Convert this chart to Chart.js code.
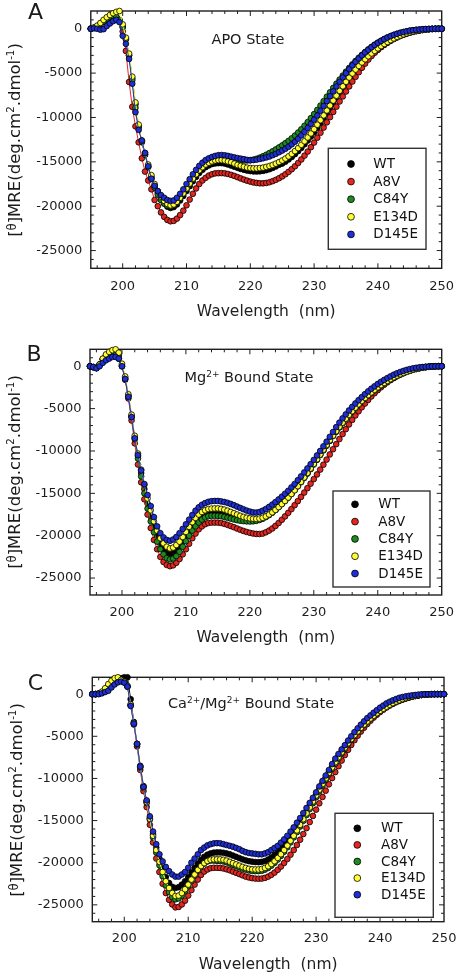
<!DOCTYPE html>
<html>
<head>
<meta charset="utf-8">
<script src="https://cdn.jsdelivr.net/npm/chart.js@4.4.0/dist/chart.umd.min.js"></script>
<style>
  html, body { margin: 0; padding: 0; background: #fff; }
  #page { position: relative; width: 456px; height: 976px; overflow: hidden; font-family: 'DejaVu Sans', sans-serif; color: #1a1a1a; }
  canvas { position: absolute; left: 0; }
  .lbl { position: absolute; white-space: nowrap; transform: translate(-50%, -50%); line-height: 1; }
  .ytitle { transform: translate(-50%, -50%) rotate(-90deg); font-size: 16.5px; }
  .note { font-size: 14.5px; }
  .letter { font-size: 22px; }
  .th { font-size: 0.7em; vertical-align: 0.35em; }
  sup { font-size: 0.62em; line-height: 0; vertical-align: 0.55em; }
</style>
</head>
<body>
<div id="page">
  <canvas id="chartA" width="456" height="325" style="top:0px"></canvas>
  <canvas id="chartB" width="456" height="325" style="top:325px"></canvas>
  <canvas id="chartC" width="456" height="326" style="top:650px"></canvas>

  <div class="lbl letter" style="left:35.5px;top:12px">A</div>
  <div class="lbl letter" style="left:34px;top:353.5px">B</div>
  <div class="lbl letter" style="left:35.5px;top:682.5px">C</div>

  <div class="lbl ytitle" style="left:14.5px;top:139.5px">[<span class="th">θ</span>]MRE(deg.cm<sup>2</sup>.dmol<sup>-1</sup>)</div>
  <div class="lbl ytitle" style="left:14.5px;top:472px">[<span class="th">θ</span>]MRE(deg.cm<sup>2</sup>.dmol<sup>-1</sup>)</div>
  <div class="lbl ytitle" style="left:16.5px;top:799.5px">[<span class="th">θ</span>]MRE(deg.cm<sup>2</sup>.dmol<sup>-1</sup>)</div>

  <div class="lbl note" style="left:248px;top:39px">APO State</div>
  <div class="lbl note" style="left:249px;top:377px">Mg<sup>2+</sup> Bound State</div>
  <div class="lbl note" style="left:251px;top:703px">Ca<sup>2+</sup>/Mg<sup>2+</sup> Bound State</div>
</div>
<script>
// ===== Data (0.5 nm steps) =====
const wavelength = [
  195, 195.5, 196, 196.5, 197, 197.5, 198, 198.5, 199, 199.5,
  200, 200.5, 201, 201.5, 202, 202.5, 203, 203.5, 204, 204.5,
  205, 205.5, 206, 206.5, 207, 207.5, 208, 208.5, 209, 209.5,
  210, 210.5, 211, 211.5, 212, 212.5, 213, 213.5, 214, 214.5,
  215, 215.5, 216, 216.5, 217, 217.5, 218, 218.5, 219, 219.5,
  220, 220.5, 221, 221.5, 222, 222.5, 223, 223.5, 224, 224.5,
  225, 225.5, 226, 226.5, 227, 227.5, 228, 228.5, 229, 229.5,
  230, 230.5, 231, 231.5, 232, 232.5, 233, 233.5, 234, 234.5,
  235, 235.5, 236, 236.5, 237, 237.5, 238, 238.5, 239, 239.5,
  240, 240.5, 241, 241.5, 242, 242.5, 243, 243.5, 244, 244.5,
  245, 245.5, 246, 246.5, 247, 247.5, 248, 248.5, 249, 249.5,
  250
];

const seriesNames = ['WT', 'A8V', 'C84Y', 'E134D', 'D145E'];
const seriesColors = ['#050505', '#e3261f', '#1f8a22', '#ffff33', '#1f2fd6'];
const xTickValues = [200, 210, 220, 230, 240, 250];
const yTickValues = [0, -5000, -10000, -15000, -20000, -25000];

// --- A: APO state ---
const apoWT = [
  0, 100, 250, 550, 850, 1100, 1300, 1400, 1300, 900,
  200, -1100, -3000, -5600, -8500, -11000, -12800, -14200, -15500, -16700,
  -17700, -18500, -19200, -19700, -20050, -20200, -20100, -19800, -19350, -18850,
  -18300, -17750, -17200, -16700, -16250, -15900, -15600, -15400, -15250, -15180,
  -15150, -15150, -15200, -15300, -15420, -15550, -15680, -15800, -15900, -15980,
  -16040, -16080, -16090, -16070, -16020, -15940, -15830, -15690, -15520, -15330,
  -15200, -14980, -14730, -14450, -14140, -13800, -13430, -13030, -12600, -12150,
  -11680, -11180, -10660, -10120, -9570, -9010, -8450, -7900, -7350, -6830,
  -6320, -5820, -5340, -4880, -4450, -4040, -3660, -3300, -2960, -2650,
  -2360, -2080, -1820, -1580, -1360, -1160, -980, -820, -670, -540,
  -430, -330, -250, -180, -120, -80, -50, -25, -10, 0,
  0
];
const apoA8V = [
  0, 100, 250, 500, 800, 1050, 1250, 1350, 1250, 800,
  -300, -2500, -6000, -8800, -11000, -12800, -14600, -16100, -17100, -18100,
  -19300, -20000, -20700, -21200, -21550, -21700, -21650, -21400, -21000, -20500,
  -19900, -19250, -18600, -18000, -17500, -17100, -16800, -16550, -16400, -16300,
  -16280, -16270, -16300, -16370, -16470, -16590, -16730, -16870, -17000, -17120,
  -17230, -17320, -17380, -17420, -17420, -17380, -17300, -17180, -17030, -16850,
  -16640, -16400, -16130, -15830, -15500, -15130, -14730, -14300, -13840, -13350,
  -12830, -12280, -11720, -11140, -10550, -9960, -9370, -8780, -8200, -7630,
  -7070, -6500, -5950, -5420, -4900, -4400, -3930, -3480, -3070, -2700,
  -2360, -2050, -1770, -1530, -1310, -1120, -950, -800, -670, -550,
  -450, -360, -280, -210, -150, -100, -60, -30, -10, 0,
  0
];
const apoC84Y = [
  0, 100, 250, 500, 800, 1100, 1300, 1400, 1350, 1000,
  200, -1200, -3000, -5800, -8900, -11100, -12700, -14200, -15600, -16900,
  -17900, -18700, -19300, -19700, -19950, -20000, -19850, -19500, -19050, -18550,
  -18000, -17450, -16900, -16400, -15950, -15550, -15250, -15000, -14850, -14750,
  -14700, -14700, -14720, -14750, -14780, -14800, -14820, -14830, -14840, -14840,
  -14800, -14750, -14650, -14520, -14370, -14200, -14010, -13810, -13600, -13380,
  -13150, -12900, -12640, -12350, -12040, -11700, -11330, -10940, -10520, -10080,
  -9620, -9150, -8660, -8160, -7660, -7160, -6670, -6190, -5730, -5280,
  -4840, -4420, -4010, -3630, -3270, -2940, -2620, -2320, -2040, -1790,
  -1560, -1350, -1150, -980, -830, -690, -570, -460, -370, -290,
  -220, -160, -120, -90, -60, -40, -20, -10, 0, 0,
  0
];
const apoE134D = [
  0, 150, 350, 650, 1000, 1300, 1550, 1750, 1900, 2000,
  500, -1000, -2800, -5400, -8300, -10800, -12600, -14000, -15300, -16500,
  -17500, -18300, -18900, -19400, -19750, -19900, -19800, -19500, -19050, -18550,
  -18000, -17450, -16900, -16400, -15950, -15600, -15300, -15100, -14950, -14850,
  -14800, -14800, -14850, -14950, -15050, -15200, -15350, -15450, -15550, -15650,
  -15700, -15730, -15730, -15700, -15650, -15570, -15470, -15350, -15200, -15030,
  -14850, -14630, -14380, -14100, -13790, -13450, -13080, -12680, -12250, -11800,
  -11320, -10820, -10300, -9760, -9210, -8650, -8090, -7540, -7000, -6480,
  -5980, -5500, -5040, -4600, -4190, -3800, -3440, -3100, -2780, -2490,
  -2210, -1950, -1710, -1490, -1280, -1090, -920, -770, -630, -510,
  -400, -310, -230, -170, -120, -80, -50, -25, -10, 0,
  0
];
const apoD145E = [
  0, 50, 0, -100, -50, 300, 600, 850, 1000, 750,
  -800, -1700, -3400, -6200, -9400, -11400, -12600, -14000, -15500, -16900,
  -17700, -18300, -18750, -19050, -19300, -19400, -19350, -19050, -18600, -18100,
  -17500, -16950, -16400, -15900, -15450, -15100, -14800, -14600, -14450, -14330,
  -14250, -14230, -14260, -14330, -14420, -14500, -14570, -14640, -14700, -14780,
  -14830, -14800, -14750, -14680, -14600, -14500, -14400, -14250, -14100, -13920,
  -13730, -13530, -13300, -13030, -12730, -12400, -12020, -11620, -11180, -10720,
  -10250, -9780, -9250, -8700, -8150, -7600, -7050, -6500, -5980, -5480,
  -5000, -4550, -4120, -3720, -3350, -3000, -2670, -2370, -2090, -1830,
  -1590, -1370, -1170, -990, -830, -690, -570, -460, -370, -290,
  -220, -170, -120, -90, -60, -40, -20, -10, 0, 0,
  0
];

// --- B: Mg2+ bound ---
const mgWT = [
  0, -100, -200, 200, 850, 1300, 1550, 1700, 1650, 1250,
  150, -1350, -3450, -5850, -8400, -10600, -12600, -14500, -16200, -17650,
  -18950, -20050, -20950, -21550, -21950, -22150, -22050, -21750, -21300, -20750,
  -20100, -19450, -18900, -18400, -17950, -17650, -17400, -17250, -17200, -17200,
  -17200, -17250, -17350, -17450, -17600, -17700, -17850, -17950, -18050, -18100,
  -18150, -18150, -18150, -18050, -17950, -17750, -17550, -17250, -16950, -16600,
  -16250, -15900, -15500, -15050, -14600, -14150, -13650, -13150, -12650, -12100,
  -11550, -11000, -10450, -9900, -9350, -8800, -8200, -7700, -7200, -6700,
  -6200, -5750, -5350, -4900, -4500, -4150, -3750, -3450, -3100, -2800,
  -2500, -2250, -2000, -1750, -1550, -1350, -1150, -950, -800, -650,
  -530, -420, -320, -230, -160, -110, -70, -35, -10, 0,
  0
];
const mgA8V = [
  0, -100, -200, 200, 800, 1200, 1400, 1500, 1300, 900,
  0, -1600, -3800, -6400, -9100, -11600, -13700, -15700, -17500, -19100,
  -20500, -21600, -22500, -23100, -23450, -23600, -23500, -23200, -22750, -22200,
  -21600, -20950, -20300, -19750, -19250, -18900, -18650, -18500, -18450, -18450,
  -18450, -18500, -18600, -18720, -18860, -19000, -19150, -19300, -19440, -19560,
  -19660, -19740, -19790, -19800, -19750, -19600, -19400, -19150, -18850, -18500,
  -18120, -17720, -17300, -16860, -16400, -15920, -15420, -14910, -14390, -13860,
  -13320, -12770, -12200, -11620, -11020, -10410, -9800, -9200, -8600, -8010,
  -7430, -6870, -6330, -5810, -5320, -4850, -4400, -3970, -3560, -3180,
  -2820, -2490, -2180, -1900, -1640, -1400, -1180, -980, -800, -640,
  -500, -380, -280, -200, -130, -80, -40, -20, -10, 0,
  0
];
const mgC84Y = [
  0, -100, -200, 200, 800, 1200, 1400, 1500, 1300, 900,
  0, -1500, -3600, -6000, -8600, -10900, -13000, -15000, -16800, -18300,
  -19600, -20700, -21600, -22200, -22650, -22800, -22700, -22400, -21900, -21300,
  -20650, -20000, -19400, -18900, -18450, -18100, -17850, -17700, -17650, -17650,
  -17660, -17700, -17780, -17880, -17980, -18080, -18170, -18230, -18280, -18310,
  -18320, -18300, -18250, -18150, -18000, -17800, -17560, -17280, -16970, -16630,
  -16270, -15890, -15490, -15070, -14630, -14170, -13690, -13190, -12670, -12140,
  -11600, -11050, -10490, -9930, -9370, -8810, -8260, -7730, -7220, -6730,
  -6260, -5810, -5370, -4950, -4550, -4170, -3810, -3470, -3150, -2850,
  -2560, -2290, -2030, -1790, -1570, -1360, -1170, -990, -830, -680,
  -550, -430, -330, -240, -170, -110, -70, -40, -15, 0,
  0
];
const mgE134D = [
  0, -100, -200, 200, 900, 1400, 1700, 1900, 2000, 1600,
  300, -1200, -3300, -5700, -8200, -10300, -12200, -14000, -15600, -17000,
  -18300, -19400, -20300, -20900, -21300, -21500, -21400, -21100, -20700, -20150,
  -19550, -18950, -18400, -17900, -17500, -17200, -17000, -16850, -16800, -16780,
  -16780, -16830, -16920, -17050, -17200, -17350, -17500, -17650, -17780, -17880,
  -17950, -18000, -18020, -17980, -17880, -17720, -17500, -17240, -16950, -16620,
  -16270, -15900, -15500, -15080, -14630, -14150, -13650, -13130, -12600, -12070,
  -11530, -10980, -10420, -9860, -9300, -8740, -8190, -7660, -7150, -6660,
  -6190, -5740, -5300, -4880, -4480, -4100, -3740, -3400, -3080, -2780,
  -2490, -2220, -1970, -1730, -1510, -1300, -1110, -940, -780, -640,
  -510, -400, -300, -220, -150, -100, -60, -30, -10, 0,
  0
];
const mgD145E = [
  0, -100, -250, 0, 400, 700, 900, 1100, 1100, 900,
  0, -1500, -3600, -6000, -8500, -10500, -12300, -13900, -15200, -16500,
  -17800, -18900, -19700, -20200, -20500, -20600, -20450, -20150, -19700, -19200,
  -18650, -18100, -17550, -17050, -16650, -16350, -16150, -16000, -15920, -15900,
  -15900, -15950, -16020, -16120, -16250, -16400, -16560, -16720, -16880, -17030,
  -17150, -17250, -17270, -17200, -17050, -16850, -16600, -16330, -16030, -15720,
  -15400, -15050, -14700, -14300, -13900, -13450, -13000, -12530, -12050, -11560,
  -11050, -10530, -10000, -9450, -8900, -8330, -7760, -7180, -6650, -6150,
  -5680, -5220, -4790, -4390, -4000, -3640, -3290, -2960, -2650, -2360,
  -2090, -1840, -1610, -1390, -1190, -1000, -830, -680, -550, -430,
  -330, -250, -180, -130, -90, -60, -40, -20, -10, 0,
  0
];

// --- C: Ca2+/Mg2+ bound ---
const caWT = [
  0, 0, 50, 200, 450, 800, 1200, 1500, 1700, 1900,
  2000, 2000, -600, -3300, -5900, -8500, -10900, -12700, -14700, -16600,
  -18200, -19500, -20700, -21700, -22400, -22850, -23000, -22900, -22600, -22200,
  -21700, -21150, -20600, -20100, -19650, -19300, -19050, -18900, -18800, -18780,
  -18780, -18820, -18900, -19000, -19150, -19300, -19450, -19600, -19720, -19820,
  -19880, -19920, -19940, -19900, -19800, -19620, -19380, -19080, -18730, -18330,
  -17890, -17420, -16910, -16370, -15800, -15200, -14580, -13940, -13280, -12610,
  -11930, -11250, -10570, -9900, -9240, -8600, -7980, -7380, -6810, -6270,
  -5750, -5260, -4800, -4360, -3950, -3560, -3200, -2860, -2550, -2260,
  -1990, -1740, -1510, -1300, -1110, -940, -780, -640, -510, -400,
  -300, -220, -150, -100, -60, -30, -10, 0, 0, 0,
  0
];
const caA8V = [
  0, 0, 50, 200, 500, 900, 1300, 1600, 1700, 1600,
  1400, 900, -1300, -3600, -6200, -9000, -11500, -13400, -15500, -17600,
  -19500, -21100, -22500, -23600, -24400, -24950, -25300, -25250, -24950, -24500,
  -23900, -23250, -22600, -22000, -21450, -21050, -20800, -20650, -20600, -20600,
  -20620, -20680, -20780, -20900, -21050, -21200, -21350, -21500, -21650, -21750,
  -21830, -21880, -21900, -21880, -21800, -21650, -21440, -21170, -20840, -20460,
  -20030, -19560, -19050, -18500, -17900, -17270, -16600, -15900, -15180, -14450,
  -13700, -12950, -12200, -11450, -10700, -9960, -9250, -8550, -7880, -7230,
  -6610, -6020, -5460, -4930, -4440, -3980, -3550, -3150, -2780, -2440,
  -2130, -1850, -1590, -1360, -1150, -960, -790, -640, -510, -400,
  -300, -220, -150, -100, -60, -30, -10, 0, 0, 0,
  0
];
const caC84Y = [
  0, 0, 50, 200, 500, 900, 1300, 1600, 1700, 1600,
  1400, 900, -1300, -3500, -6000, -8700, -11100, -12900, -14900, -17000,
  -18800, -20300, -21600, -22700, -23500, -24100, -24340, -24250, -23900, -23400,
  -22800, -22200, -21550, -20950, -20450, -20100, -19850, -19750, -19750, -19780,
  -19800, -19850, -19950, -20100, -20250, -20400, -20550, -20700, -20820, -20920,
  -20980, -21000, -21000, -20950, -20820, -20620, -20350, -20020, -19630, -19190,
  -18700, -18170, -17600, -17000, -16370, -15710, -15030, -14340, -13640, -12940,
  -12230, -11540, -10860, -10190, -9530, -8880, -8250, -7640, -7050, -6490,
  -5950, -5440, -4960, -4500, -4070, -3660, -3280, -2920, -2590, -2280,
  -1990, -1730, -1490, -1270, -1070, -890, -730, -590, -470, -360,
  -270, -190, -130, -80, -50, -25, -10, 0, 0, 0,
  0
];
const caE134D = [
  0, 0, 100, 300, 700, 1200, 1600, 1900, 2000, 1700,
  1500, 1000, -1200, -3400, -5900, -8600, -11000, -12800, -14800, -16800,
  -18500, -19900, -21100, -22200, -23000, -23600, -23950, -23900, -23600, -23150,
  -22600, -22000, -21400, -20850, -20400, -20050, -19800, -19650, -19600, -19600,
  -19600, -19650, -19750, -19900, -20050, -20200, -20350, -20500, -20620, -20720,
  -20780, -20800, -20800, -20750, -20620, -20420, -20150, -19820, -19430, -18990,
  -18500, -17970, -17400, -16800, -16170, -15510, -14830, -14140, -13440, -12740,
  -12040, -11350, -10670, -10000, -9340, -8700, -8080, -7480, -6900, -6350,
  -5830, -5330, -4860, -4420, -4000, -3600, -3230, -2880, -2560, -2260,
  -1980, -1720, -1480, -1260, -1060, -880, -720, -580, -460, -350,
  -260, -180, -120, -70, -40, -20, -10, 0, 0, 0,
  0
];
const caD145E = [
  0, 0, 0, 100, 250, 400, 800, 1150, 1400, 1500,
  1370, 900, -1400, -3500, -5900, -8600, -11000, -12600, -14500, -16300,
  -17800, -19000, -19850, -20500, -21000, -21400, -21650, -21650, -21400, -21100,
  -20600, -20000, -19500, -19000, -18500, -18200, -17950, -17800, -17700, -17680,
  -17700, -17800, -17900, -18000, -18100, -18250, -18400, -18600, -18750, -18850,
  -18900, -18950, -19000, -19000, -18900, -18750, -18500, -18250, -18000, -17620,
  -17230, -16800, -16300, -15800, -15250, -14700, -14100, -13500, -12900, -12300,
  -11650, -10950, -10300, -9650, -9000, -8300, -7650, -7100, -6550, -6050,
  -5500, -5000, -4500, -4050, -3620, -3220, -2840, -2520, -2200, -1900,
  -1600, -1350, -1100, -900, -730, -580, -430, -340, -260, -200,
  -140, -100, -50, -30, -10, 0, 0, 0, 0, 0,
  0
];

// ===== Layout per panel (pixel geometry only) =====
const panels = [
  { id: 'chartA', series: [apoWT, apoA8V, apoC84Y, apoE134D, apoD145E],
    area: { left: 90.8, top: 11, right: 441.7, bottom: 268.3 }, titlePad: 5.5, tickPad: 10.9,
    legend: { x0: 328.3, y0: 148.3, x1: 426, y1: 249.3, markerX: 351, textX: 373.3, rowY: 164, rowStep: 17.6 } },
  { id: 'chartB', series: [mgWT, mgA8V, mgC84Y, mgE134D, mgD145E],
    area: { left: 90, top: 24.3, right: 441.7, bottom: 270 }, titlePad: 4.5, tickPad: 9.5,
    legend: { x0: 333, y0: 166, x1: 430, y1: 262, markerX: 355, textX: 378.3, rowY: 179.3, rowStep: 17.3 } },
  { id: 'chartC', series: [caWT, caA8V, caC84Y, caE134D, caD145E],
    area: { left: 92.3, top: 27.3, right: 444, bottom: 271.7 }, titlePad: 3, tickPad: 9.5,
    legend: { x0: 335, y0: 163.3, x1: 433.3, y1: 267.3, markerX: 357.3, textX: 381, rowY: 178.3, rowStep: 16.6 } }
];

const FONT = 'DejaVu Sans';
const INK = '#1e1e1e';

// frame with inward ticks on all four sides
const frameTicks = {
  id: 'frameTicks',
  beforeDatasetsDraw(chart) {
    const { ctx, chartArea: a, scales: { x, y } } = chart;
    ctx.save();
    ctx.strokeStyle = INK;
    ctx.lineWidth = 1;
    ctx.beginPath();
    for (let v = 196; v < 250; v += 2) {
      const px = x.getPixelForValue(v);
      const len = v % 10 === 0 ? 5 : 3;
      ctx.moveTo(px, a.bottom); ctx.lineTo(px, a.bottom - len);
      ctx.moveTo(px, a.top); ctx.lineTo(px, a.top + len);
    }
    for (let v = -26000; v <= 1000; v += 1000) {
      const py = y.getPixelForValue(v);
      const len = v % 5000 === 0 ? 5 : 3;
      ctx.moveTo(a.left, py); ctx.lineTo(a.left + len, py);
      ctx.moveTo(a.right, py); ctx.lineTo(a.right - len, py);
    }
    ctx.stroke();
    ctx.lineWidth = 1.4;
    ctx.strokeRect(a.left, a.top, a.right - a.left, a.bottom - a.top);
    ctx.restore();
  }
};

// boxed legend inside the plot
const boxLegend = {
  id: 'boxLegend',
  afterDatasetsDraw(chart, args, opts) {
    const { ctx } = chart;
    ctx.save();
    ctx.fillStyle = '#fff';
    ctx.fillRect(opts.x0, opts.y0, opts.x1 - opts.x0, opts.y1 - opts.y0);
    ctx.strokeStyle = '#333';
    ctx.lineWidth = 1.4;
    ctx.strokeRect(opts.x0, opts.y0, opts.x1 - opts.x0, opts.y1 - opts.y0);
    ctx.font = `13.5px '${FONT}'`;
    ctx.textBaseline = 'middle';
    ctx.textAlign = 'left';
    chart.data.datasets.forEach((ds, i) => {
      const cy = opts.rowY + i * opts.rowStep;
      ctx.beginPath();
      ctx.arc(opts.markerX, cy, 3.4, 0, Math.PI * 2);
      ctx.fillStyle = ds.pointBackgroundColor;
      ctx.fill();
      ctx.lineWidth = 0.8;
      ctx.strokeStyle = '#000';
      ctx.stroke();
      ctx.fillStyle = '#111';
      ctx.fillText(ds.label, opts.textX, cy + 0.5);
    });
    ctx.restore();
  }
};

function buildChart(p) {
  const canvas = document.getElementById(p.id);
  const W = canvas.width, H = canvas.height;
  const datasets = p.series.map((vals, i) => ({
    label: seriesNames[i],
    data: wavelength.map((w, k) => ({ x: w, y: vals[k] })),
    borderColor: seriesColors[i],
    borderWidth: 1,
    pointRadius: 2.85,
    pointBorderWidth: 0.8,
    pointBorderColor: '#000',
    pointBackgroundColor: seriesColors[i],
    pointStyle: 'circle',
    tension: 0,
    clip: false,
    order: seriesNames.length - 1 - i
  }));

  return new Chart(canvas, {
    type: 'line',
    data: { datasets },
    options: {
      responsive: false,
      animation: false,
      devicePixelRatio: 1,
      events: [],
      layout: { padding: { left: 0, top: p.area.top, right: W - p.area.right, bottom: 0 } },
      plugins: {
        legend: { display: false },
        tooltip: { enabled: false },
        boxLegend: p.legend
      },
      scales: {
        x: {
          type: 'linear',
          min: 195,
          max: 250,
          grid: { display: false, drawTicks: false },
          border: { display: false },
          ticks: {
            font: { family: FONT, size: 13 },
            color: INK,
            padding: p.tickPad,
            maxRotation: 0,
            autoSkip: false,
            callback: v => String(v)
          },
          title: {
            display: true,
            text: 'Wavelength  (nm)',
            font: { family: FONT, size: 15.5, lineHeight: 1 },
            color: INK,
            padding: { top: 0, bottom: p.titlePad }
          },
          afterBuildTicks: s => { s.ticks = xTickValues.map(v => ({ value: v })); },
          afterFit: s => { s.height = H - p.area.bottom; s.paddingLeft = 0; s.paddingRight = 0; }
        },
        y: {
          type: 'linear',
          min: -27000,
          max: 2000,
          grid: { display: false, drawTicks: false },
          border: { display: false },
          ticks: {
            font: { family: FONT, size: 13 },
            color: INK,
            padding: 8.5,
            autoSkip: false,
            callback: v => String(v)
          },
          afterBuildTicks: s => { s.ticks = yTickValues.map(v => ({ value: v })); },
          afterFit: s => { s.width = p.area.left; s.paddingTop = 0; s.paddingBottom = 0; }
        }
      }
    },
    plugins: [frameTicks, boxLegend]
  });
}

panels.forEach(buildChart);
</script>
</body>
</html>
